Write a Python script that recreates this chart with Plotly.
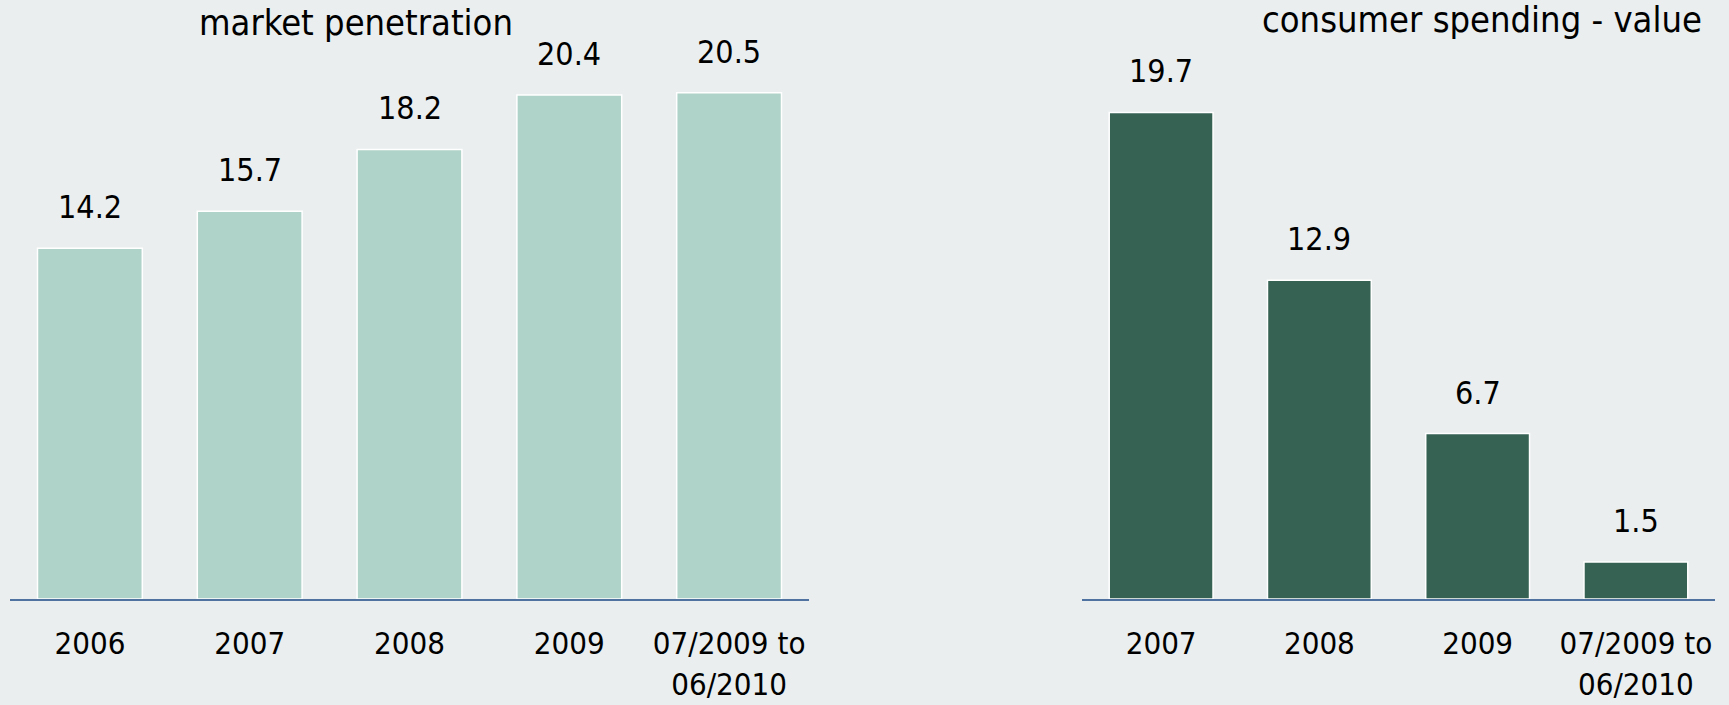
import plotly.graph_objects as go

# ---- data ----
pen_categories = ["2006", "2007", "2008", "2009", "07/2009 to<br>06/2010"]
pen_values = [14.2, 15.7, 18.2, 20.4, 20.5]
pen_labels = ["14.2", "15.7", "18.2", "20.4", "20.5"]
pen_title = "market penetration"

spend_categories = ["2007", "2008", "2009", "07/2009 to<br>06/2010"]
spend_values = [19.7, 12.9, 6.7, 1.5]
spend_labels = ["19.7", "12.9", "6.7", "1.5"]
spend_title = "consumer spending - value"

# ---- style ----
FONT = "DejaVu Sans Condensed, DejaVu Sans, Verdana, sans-serif"
BG = "#EAEEEF"
LIGHT = "#B0D3C9"
DARK = "#366254"
AXIS = "#4F72A0"
W, H = 1729, 705
BOTTOM = 106
YMAX = 24.25
LABEL_SHIFT = 41

pen_x = list(range(len(pen_categories)))
spend_x = list(range(len(spend_categories)))

fig = go.Figure()
fig.add_trace(go.Bar(x=pen_x, y=pen_values, width=0.656,
                     marker=dict(color=LIGHT, line=dict(color="white", width=1.5)),
                     xaxis="x", yaxis="y", hoverinfo="skip"))
fig.add_trace(go.Bar(x=spend_x, y=spend_values, width=0.656,
                     marker=dict(color=DARK, line=dict(color="white", width=1.5)),
                     xaxis="x2", yaxis="y2", hoverinfo="skip"))

annotations = []
for c, v, t in zip(pen_x, pen_values, pen_labels):
    annotations.append(dict(x=c, y=v, xref="x", yref="y", text=t, showarrow=False,
                            yanchor="middle", yshift=LABEL_SHIFT,
                            font=dict(family=FONT, size=32, color="#000")))
for c, v, t in zip(spend_x, spend_values, spend_labels):
    annotations.append(dict(x=c, y=v, xref="x2", yref="y2", text=t, showarrow=False,
                            yanchor="middle", yshift=LABEL_SHIFT,
                            font=dict(family=FONT, size=32, color="#000")))
annotations.append(dict(x=356 / W, y=1 - 23 / (H - BOTTOM), xref="paper", yref="paper",
                        text=pen_title, showarrow=False, xanchor="center", yanchor="middle",
                        font=dict(family=FONT, size=36, color="#000")))
annotations.append(dict(x=1482 / W, y=1 - 20 / (H - BOTTOM), xref="paper", yref="paper",
                        text=spend_title, showarrow=False, xanchor="center", yanchor="middle",
                        font=dict(family=FONT, size=36, color="#000")))

def xaxis_cfg(cats, domain, anchor):
    return dict(domain=domain, anchor=anchor, type="linear", automargin=False,
                range=[-0.5, len(cats) - 0.5],
                tickmode="array", tickvals=list(range(len(cats))), ticktext=cats,
                showline=True, linecolor=AXIS, linewidth=2, showgrid=False,
                zeroline=False, ticks="", ticklabelstandoff=16, fixedrange=True,
                tickfont=dict(family=FONT, size=31, color="#000"))

yax = dict(visible=False, range=[0, YMAX], fixedrange=True, automargin=False)

fig.update_layout(
    width=W, height=H,
    margin=dict(l=0, r=0, t=0, b=BOTTOM, pad=0, autoexpand=False),
    paper_bgcolor=BG, plot_bgcolor=BG,
    showlegend=False,
    xaxis=xaxis_cfg(pen_categories, [10 / W, 809 / W], "y"),
    yaxis=dict(domain=[0, 1], anchor="x", **yax),
    xaxis2=xaxis_cfg(spend_categories, [1082 / W, 1715 / W], "y2"),
    yaxis2=dict(domain=[0, 1], anchor="x2", **yax),
    annotations=annotations,
    font=dict(family=FONT, color="#000"),
)

fig.write_html("out.html", config={"displayModeBar": False})
